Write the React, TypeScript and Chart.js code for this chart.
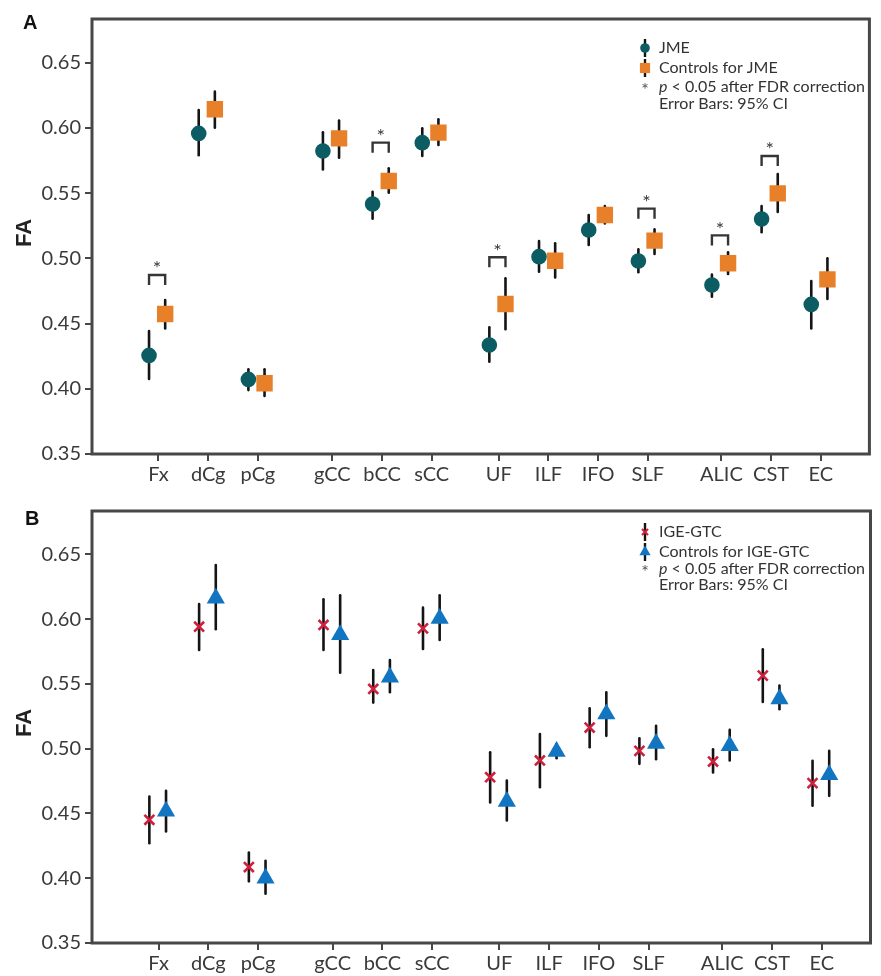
import React, { useEffect, useRef } from 'react';
import { Chart, registerables } from 'chart.js';

Chart.register(...registerables);

// ---------- data ----------
const categories = ['Fx', 'dCg', 'pCg', 'gCC', 'bCC', 'sCC', 'UF', 'ILF', 'IFO', 'SLF', 'ALIC', 'CST', 'EC'];
const categoryPositions = [1, 2, 3, 4.5, 5.5, 6.5, 7.85, 8.85, 9.85, 10.85, 12.33, 13.33, 14.33];
const yTicks = [0.35, 0.4, 0.45, 0.5, 0.55, 0.6, 0.65];

const jmeMean = [0.4256, 0.5958, 0.4072, 0.5823, 0.5417, 0.5887, 0.4336, 0.5013, 0.5217, 0.498, 0.4796, 0.5302, 0.4647];
const jmeLow = [0.4075, 0.579, 0.399, 0.5682, 0.5304, 0.5785, 0.4208, 0.4898, 0.5102, 0.4893, 0.4706, 0.52, 0.4463];
const jmeHigh = [0.4443, 0.6137, 0.4149, 0.5966, 0.5511, 0.5997, 0.4471, 0.5133, 0.5332, 0.5069, 0.4875, 0.5401, 0.4826];

const ctrlJmeMean = [0.4573, 0.6143, 0.4042, 0.592, 0.5593, 0.5964, 0.465, 0.4982, 0.5332, 0.5136, 0.4962, 0.5498, 0.4839];
const ctrlJmeLow = [0.4463, 0.6002, 0.3945, 0.5772, 0.5503, 0.5869, 0.4456, 0.4854, 0.5268, 0.5033, 0.488, 0.5355, 0.4688];
const ctrlJmeHigh = [0.468, 0.6278, 0.415, 0.6056, 0.569, 0.6066, 0.4847, 0.5115, 0.5401, 0.5222, 0.5046, 0.5647, 0.5];

const igeMean = [0.4451, 0.5942, 0.4086, 0.5955, 0.5461, 0.5929, 0.478, 0.4909, 0.5163, 0.4983, 0.4901, 0.5564, 0.4734];
const igeLow = [0.4271, 0.5762, 0.3976, 0.5762, 0.5356, 0.577, 0.4585, 0.4703, 0.5011, 0.4883, 0.4816, 0.5361, 0.4559];
const igeHigh = [0.4631, 0.6117, 0.4199, 0.6153, 0.5608, 0.6089, 0.4973, 0.5114, 0.5312, 0.508, 0.4996, 0.5767, 0.4906];

const ctrlIgeMean = [0.4518, 0.6161, 0.3999, 0.588, 0.5551, 0.6006, 0.4593, 0.4978, 0.5268, 0.5041, 0.5022, 0.5384, 0.4798];
const ctrlIgeLow = [0.4361, 0.5922, 0.388, 0.5587, 0.5436, 0.5839, 0.4446, 0.4927, 0.5099, 0.4919, 0.4909, 0.5305, 0.4636];
const ctrlIgeHigh = [0.4675, 0.6418, 0.4135, 0.6184, 0.5685, 0.6184, 0.4755, 0.5035, 0.5436, 0.5176, 0.5145, 0.5487, 0.4983];

// significance bracket levels (FA value of bracket top), null = not significant
const bracketA = [0.4872, null, null, null, 0.5887, null, 0.5008, null, null, 0.5381, 0.5176, 0.5785, null];
const bracketB = [null, null, null, null, null, null, null, null, null, null, null, null, null];

// ---------- styles ----------
const W = 881;
const H = 488;
const FONT = 'Lato, "Open Sans", "DejaVu Sans", sans-serif';
const BOLD = '"Liberation Sans", Arial, sans-serif';
const TEXT = '#3a3a3a';
const FRAME = '#474747';

type Series = {
  label: string;
  mean: number[];
  low: number[];
  high: number[];
  offset: number;
  style: 'circle' | 'rect' | 'crossRot' | 'triangle';
  radius: number;
  color: string;
};

type PanelCfg = {
  letter: string;
  letterX: number;
  letterY: number;
  padTop: number;
  xAxisH: number;
  faY: number;
  legendRows: number[];
  series: Series[];
  brackets: (number | null)[];
};

function drawIcon(ctx: CanvasRenderingContext2D, s: Series, x: number, y: number, small: boolean) {
  const r = small ? s.radius * 0.62 : s.radius;
  ctx.save();
  ctx.fillStyle = s.color;
  ctx.strokeStyle = s.color;
  ctx.beginPath();
  if (s.style === 'circle') {
    ctx.arc(x, y, r, 0, Math.PI * 2);
    ctx.fill();
  } else if (s.style === 'rect') {
    const h = r / Math.SQRT2;
    ctx.fillRect(x - h, y - h, 2 * h, 2 * h);
  } else if (s.style === 'triangle') {
    ctx.moveTo(x, y - r);
    ctx.lineTo(x + Math.sin((2 * Math.PI) / 3) * r, y + r / 2);
    ctx.lineTo(x - Math.sin((2 * Math.PI) / 3) * r, y + r / 2);
    ctx.closePath();
    ctx.fill();
  } else {
    const o = r * Math.SQRT1_2;
    ctx.lineWidth = small ? 2 : 2.5;
    ctx.moveTo(x - o, y - o);
    ctx.lineTo(x + o, y + o);
    ctx.moveTo(x - o, y + o);
    ctx.lineTo(x + o, y - o);
    ctx.stroke();
  }
  ctx.restore();
}

function makePlugin(cfg: PanelCfg) {
  return {
    id: 'panelDecor' + cfg.letter,
    beforeDatasetsDraw(chart: any) {
      const ctx: CanvasRenderingContext2D = chart.ctx;
      const xs = chart.scales.x;
      const ys = chart.scales.y;
      ctx.save();
      ctx.strokeStyle = '#141414';
      ctx.lineWidth = 2.6;
      ctx.lineCap = 'round';
      cfg.series.forEach((s) => {
        categoryPositions.forEach((p, i) => {
          const x = xs.getPixelForValue(p + s.offset);
          ctx.beginPath();
          ctx.moveTo(x, ys.getPixelForValue(s.low[i]));
          ctx.lineTo(x, ys.getPixelForValue(s.high[i]));
          ctx.stroke();
        });
      });
      ctx.restore();
    },
    afterDatasetsDraw(chart: any) {
      const ctx: CanvasRenderingContext2D = chart.ctx;
      const xs = chart.scales.x;
      const ys = chart.scales.y;
      ctx.save();
      ctx.strokeStyle = '#353535';
      ctx.fillStyle = '#3c3c3c';
      ctx.lineWidth = 2.4;
      cfg.brackets.forEach((lvl, i) => {
        if (lvl == null) return;
        const p = categoryPositions[i];
        const x1 = xs.getPixelForValue(p + cfg.series[0].offset);
        const x2 = xs.getPixelForValue(p + cfg.series[1].offset);
        const y = ys.getPixelForValue(lvl);
        ctx.beginPath();
        ctx.moveTo(x1, y + 10);
        ctx.lineTo(x1, y);
        ctx.lineTo(x2, y);
        ctx.lineTo(x2, y + 10);
        ctx.stroke();
        ctx.font = `20px ${FONT}`;
        ctx.textAlign = 'center';
        ctx.textBaseline = 'middle';
        ctx.fillText('*', (x1 + x2) / 2, y - 6);
      });
      ctx.restore();
    },
    afterDraw(chart: any) {
      const ctx: CanvasRenderingContext2D = chart.ctx;
      const a = chart.chartArea;
      ctx.save();
      // frame
      ctx.strokeStyle = FRAME;
      ctx.lineWidth = 3;
      ctx.strokeRect(a.left, a.top, a.right - a.left, a.bottom - a.top);
      // panel letter
      ctx.fillStyle = '#111';
      ctx.font = `bold 20px ${BOLD}`;
      ctx.textAlign = 'left';
      ctx.textBaseline = 'alphabetic';
      ctx.fillText(cfg.letter, cfg.letterX, cfg.letterY);
      // FA title
      ctx.save();
      ctx.translate(25, cfg.faY);
      ctx.rotate(-Math.PI / 2);
      ctx.font = `bold 22px ${BOLD}`;
      ctx.fillStyle = '#222';
      ctx.textAlign = 'center';
      ctx.textBaseline = 'middle';
      ctx.fillText('FA', 0, 0);
      ctx.restore();
      // legend
      const iconX = 645;
      const textX = 659;
      const rows = cfg.legendRows;
      ctx.font = `16px ${FONT}`;
      ctx.fillStyle = '#333';
      ctx.textBaseline = 'middle';
      ctx.textAlign = 'left';
      cfg.series.forEach((s, k) => {
        const y = rows[k];
        ctx.save();
        ctx.strokeStyle = '#141414';
        ctx.lineWidth = 2.4;
        ctx.beginPath();
        ctx.moveTo(iconX, y - 9);
        ctx.lineTo(iconX, y + 9);
        ctx.stroke();
        ctx.restore();
        drawIcon(ctx, s, iconX, y, true);
        ctx.fillStyle = '#333';
        ctx.fillText(s.label, textX, y);
      });
      ctx.fillStyle = '#555';
      ctx.textAlign = 'center';
      ctx.font = `18px ${FONT}`;
      ctx.fillText('*', iconX, rows[2] + 3);
      ctx.textAlign = 'left';
      ctx.fillStyle = '#333';
      ctx.font = `italic 16px ${FONT}`;
      ctx.fillText('p', textX, rows[2]);
      const pw = ctx.measureText('p').width;
      ctx.font = `16px ${FONT}`;
      ctx.fillText(' < 0.05 after FDR correction', textX + pw, rows[2]);
      ctx.fillText('Error Bars: 95% CI', textX, rows[3]);
      ctx.restore();
    },
  };
}

function Panel({ cfg }: { cfg: PanelCfg }) {
  const ref = useRef<HTMLCanvasElement>(null);
  useEffect(() => {
    if (!ref.current) return;
    const chart = new Chart(ref.current, {
      type: 'scatter',
      data: {
        datasets: cfg.series.map((s) => ({
          label: s.label,
          data: categoryPositions.map((p, i) => ({ x: p + s.offset, y: s.mean[i] })),
          pointStyle: s.style,
          pointRadius: s.radius,
          backgroundColor: s.color,
          borderColor: s.color,
          borderWidth: s.style === 'crossRot' ? 2.6 : 0,
        })),
      },
      options: {
        responsive: false,
        animation: false,
        events: [],
        layout: { padding: { left: 0, right: 2, top: cfg.padTop, bottom: 0 } },
        plugins: { legend: { display: false }, tooltip: { enabled: false } },
        scales: {
          x: {
            type: 'linear',
            min: -0.338,
            max: 15.31,
            afterBuildTicks: (s: any) => {
              s.ticks = categoryPositions.map((v) => ({ value: v }));
            },
            afterFit: (s: any) => {
              s.height = cfg.xAxisH;
            },
            ticks: {
              autoSkip: false,
              maxRotation: 0,
              minRotation: 0,
              padding: 2,
              color: TEXT,
              font: { family: FONT, size: 20 },
              callback: (_v: any, i: number) => categories[i],
            },
            grid: { display: true, drawOnChartArea: false, drawTicks: true, tickLength: 7, color: FRAME, lineWidth: 2 },
            border: { display: false },
          },
          y: {
            type: 'linear',
            min: 0.35,
            max: 0.6835,
            afterBuildTicks: (s: any) => {
              s.ticks = yTicks.map((v) => ({ value: v }));
            },
            afterFit: (s: any) => {
              s.width = 92;
            },
            ticks: {
              padding: 4,
              color: TEXT,
              font: { family: FONT, size: 20 },
              callback: (v: any) => Number(v).toFixed(2),
            },
            grid: { display: true, drawOnChartArea: false, drawTicks: true, tickLength: 7, color: FRAME, lineWidth: 2 },
            border: { display: false },
          },
        },
      },
      plugins: [makePlugin(cfg)],
    } as any);
    return () => chart.destroy();
  }, [cfg]);
  return <canvas ref={ref} width={W} height={H} style={{ display: 'block', width: W, height: H }} />;
}

const panelA: PanelCfg = {
  letter: 'A',
  letterX: 23,
  letterY: 29,
  padTop: 19,
  xAxisH: 34,
  faY: 233,
  legendRows: [48, 68, 87, 104],
  brackets: bracketA,
  series: [
    { label: 'JME', mean: jmeMean, low: jmeLow, high: jmeHigh, offset: -0.19, style: 'circle', radius: 7.8, color: '#0b5d63' },
    { label: 'Controls for JME', mean: ctrlJmeMean, low: ctrlJmeLow, high: ctrlJmeHigh, offset: 0.135, style: 'rect', radius: 11.6, color: '#e8802a' },
  ],
};

const panelB: PanelCfg = {
  letter: 'B',
  letterX: 25,
  letterY: 37,
  padTop: 23,
  xAxisH: 33,
  faY: 235,
  legendRows: [44, 64, 81, 97],
  brackets: bracketB,
  series: [
    { label: 'IGE-GTC', mean: igeMean, low: igeLow, high: igeHigh, offset: -0.185, style: 'crossRot', radius: 7, color: '#cf1f3c' },
    { label: 'Controls for IGE-GTC', mean: ctrlIgeMean, low: ctrlIgeLow, high: ctrlIgeHigh, offset: 0.15, style: 'triangle', radius: 10.5, color: '#1275c2' },
  ],
};

export default function App() {
  return (
    <div style={{ position: 'absolute', left: 0, top: 0, width: W, height: 2 * H, background: '#fff' }}>
      <Panel cfg={panelA} />
      <Panel cfg={panelB} />
    </div>
  );
}
